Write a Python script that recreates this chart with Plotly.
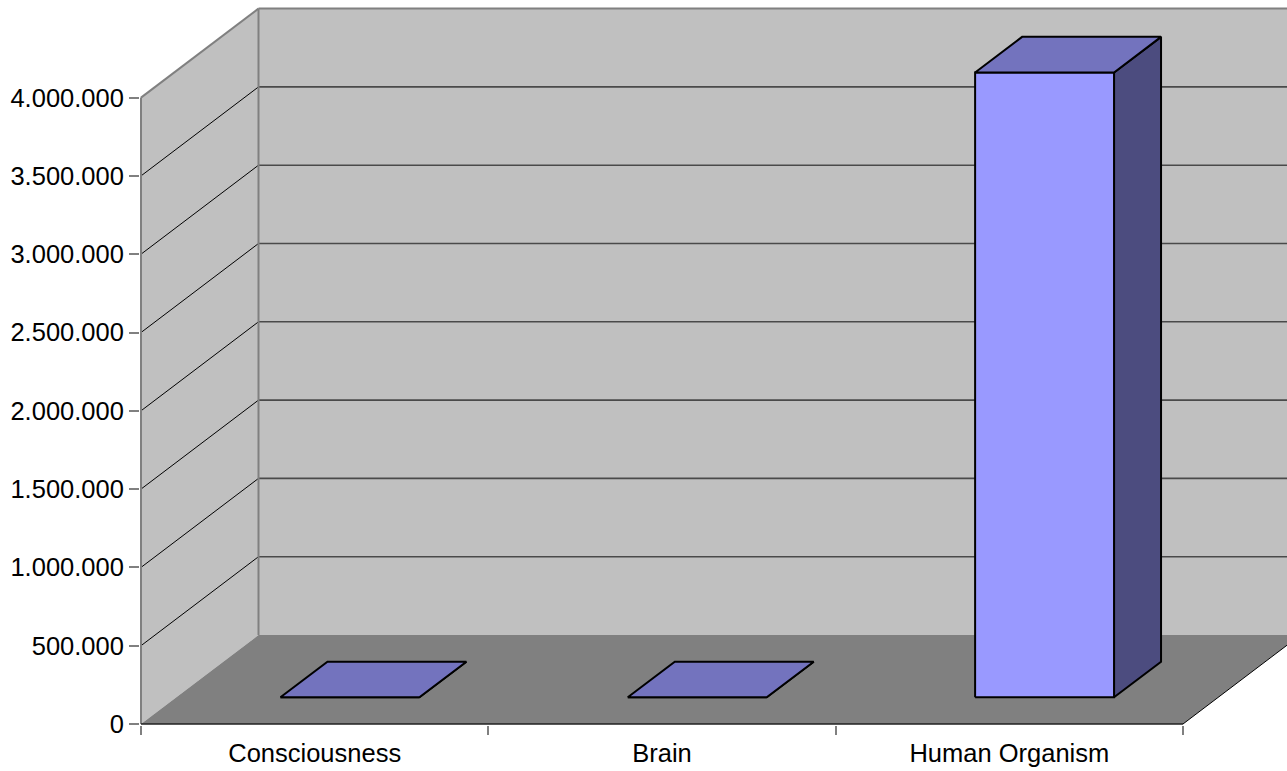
import plotly.graph_objects as go

# ---- data -------------------------------------------------------------
categories = ["Consciousness", "Brain", "Human Organism"]
values = [0, 0, 3990000]
y_ticks = [0, 500000, 1000000, 1500000, 2000000, 2500000, 3000000, 3500000, 4000000]
axis_max = 4000000

# ---- geometry of the pseudo-3D box -----------------------------------
W, H = 1287, 771
ML, MB = 140, 46                 # plot area margins (left / bottom)
ORIGIN_X, ORIGIN_Y = 141, 724    # pixel position of (category 0, value 0) on the front plane
PX_PER_CAT = 347.33
PX_PER_VAL = 156.6 / 1e6
DEPTH_X = 117.5 / PX_PER_CAT     # back plane offset, in category units
DEPTH_Y = 89 / PX_PER_VAL        # back plane offset, in value units
BAR_U = (0.3, 0.7)               # bar extent inside its category
BAR_D = (0.3, 0.7)               # bar extent in depth (0 = front, 1 = back wall)
n = len(categories)

FONT = "Liberation Sans, Arial, sans-serif"
WALL = "#C0C0C0"
FLOOR = "#808080"
EDGE = "#808080"
FRONT_C, TOP_C, SIDE_C = "#9999FF", "#7373BE", "#4C4C7F"


def P(u, v, d):
    """Project (category pos, value, depth fraction) into the 2D axes."""
    return u + d * DEPTH_X, v + d * DEPTH_Y


def poly(pts, fill=None, color=None, width=0):
    xs = [p[0] for p in pts] + [pts[0][0]]
    ys = [p[1] for p in pts] + [pts[0][1]]
    return go.Scatter(
        x=xs, y=ys, mode="lines",
        fill="toself" if fill else None, fillcolor=fill,
        line=dict(color=color or "rgba(0,0,0,0)", width=width),
        hoverinfo="skip", showlegend=False,
    )


def segments(segs, color, width):
    xs, ys = [], []
    for a, b in segs:
        xs += [a[0], b[0], None]
        ys += [a[1], b[1], None]
    return go.Scatter(x=xs, y=ys, mode="lines", line=dict(color=color, width=width),
                      hoverinfo="skip", showlegend=False)


fig = go.Figure()

# back wall, side wall, floor
fig.add_trace(poly([P(0, 0, 1), P(n, 0, 1), P(n, axis_max, 1), P(0, axis_max, 1)], WALL))
fig.add_trace(poly([P(0, 0, 0), P(0, 0, 1), P(0, axis_max, 1), P(0, axis_max, 0)], WALL))
fig.add_trace(poly([P(0, 0, 0), P(n, 0, 0), P(n, 0, 1), P(0, 0, 1)], FLOOR))

# gridlines on the back wall and the matching diagonals on the side wall
fig.add_trace(segments([(P(0, v, 1), P(n, v, 1)) for v in y_ticks[1:-1]], "#4A4A4A", 1.6))
fig.add_trace(segments([(P(0, v, 0), P(0, v, 1)) for v in y_ticks[1:-1]], "#000000", 1))

# wall edges
fig.add_trace(segments([
    (P(0, axis_max, 0), P(0, axis_max, 1)),
    (P(0, axis_max, 1), P(n, axis_max, 1)),
    (P(0, 0, 1), P(0, axis_max, 1)),
    (P(0, 0, 0), P(0, axis_max, 0)),
], EDGE, 2))
fig.add_trace(segments([(P(n, 0, 0), P(n, 0, 1))], "#000000", 1))
fig.add_trace(segments([(P(0, 0, 0), P(n, 0, 0))], "#202020", 1.6))

# bars
for i, val in enumerate(values):
    u0, u1 = i + BAR_U[0], i + BAR_U[1]
    d0, d1 = BAR_D
    fig.add_trace(poly([P(u1, 0, d0), P(u1, 0, d1), P(u1, val, d1), P(u1, val, d0)],
                       SIDE_C, "#000000", 2))
    fig.add_trace(poly([P(u0, 0, d0), P(u1, 0, d0), P(u1, val, d0), P(u0, val, d0)],
                       FRONT_C, "#000000", 2))
    fig.add_trace(poly([P(u0, val, d0), P(u1, val, d0), P(u1, val, d1), P(u0, val, d1)],
                       TOP_C, "#000000", 2))

x_lo = (ML - ORIGIN_X) / PX_PER_CAT
x_hi = (W - ORIGIN_X) / PX_PER_CAT
y_lo = (ORIGIN_Y - (H - MB)) / PX_PER_VAL
y_hi = ORIGIN_Y / PX_PER_VAL

fig.update_layout(
    width=W, height=H,
    margin=dict(l=ML, r=0, t=0, b=MB, pad=0),
    paper_bgcolor="white", plot_bgcolor="white",
    separators=",.",
    font=dict(family=FONT, size=25.5, color="black"),
    xaxis=dict(
        range=[x_lo, x_hi], showgrid=False, zeroline=False, showline=False,
        tickmode="array", tickvals=[i + 0.5 for i in range(n)], ticktext=categories,
        ticks="", ticklabelstandoff=10,
        tickfont=dict(family=FONT, size=25.5, color="black"),
        minor=dict(ticks="outside", tickmode="array", tickvals=list(range(n + 1)),
                   ticklen=9, tickcolor=EDGE, tickwidth=1.5, showgrid=False),
    ),
    yaxis=dict(
        range=[y_lo, y_hi], showgrid=False, zeroline=False, showline=False,
        tickmode="array", tickvals=y_ticks, tickformat=",.0f",
        ticks="outside", ticklen=10, tickcolor=EDGE, tickwidth=1.5,
        tickfont=dict(family=FONT, size=25.5, color="black"),
    ),
)

fig.write_html("out.html")
